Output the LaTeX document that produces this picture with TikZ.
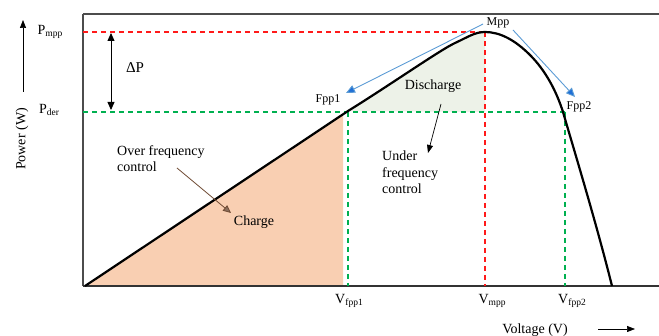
\documentclass[tikz,border=0pt]{standalone}
\usepackage{fontspec}
\setmainfont{Liberation Serif}
\usetikzlibrary{arrows.meta}
\definecolor{redd}{HTML}{FF1A1A}
\definecolor{grn}{HTML}{00B050}
\definecolor{peach}{HTML}{F9CFB2}
\definecolor{palegreen}{HTML}{EDF2E8}
\definecolor{lblue}{HTML}{5B9BD5}
\definecolor{dblue}{HTML}{1F6FD6}
\definecolor{brownish}{HTML}{6E4A33}
\tikzset{
  frameline/.style={draw=black!70, line width=1.3pt},
  curveline/.style={draw=black, line width=2.2pt},
  reddash/.style={draw=redd, line width=1.4pt, dash pattern=on 5pt off 4pt},
  grndash/.style={draw=grn, line width=1.4pt, dash pattern=on 5pt off 4pt},
  bluearrow/.style={draw=lblue, line width=0.9pt, -{Triangle[length=9pt,width=8pt,fill=dblue]}},
  blkarrow/.style={draw=black, line width=0.7pt, -{Triangle[length=8pt,width=6pt]}},
  lbl/.style={inner sep=0pt, font=\fontsize{14}{16.5}\selectfont},
  small/.style={inner sep=0pt, font=\fontsize{12}{14}\selectfont},
}
\newcommand{\sbs}[1]{{\fontsize{9.5}{10}\selectfont #1}}
\begin{document}
\begin{tikzpicture}[x=1pt,y=-1pt]
\useasboundingbox (0,0) rectangle (659,336);
% key points
\coordinate (O) at (85,286);
\coordinate (F1) at (348,111);
\coordinate (A) at (455,43);
\coordinate (M) at (485,32);
\coordinate (B) at (530,55);
\coordinate (F2) at (563,112);
\coordinate (E) at (612,286);
\coordinate (PL) at (83,32);
\coordinate (DL) at (83,112);
\coordinate (Mb) at (485,286);
\coordinate (M1) at (485,112);
\coordinate (F1t) at (348,112);
\coordinate (F1b) at (348,286);
\coordinate (F2t) at (565,112);
\coordinate (F2b) at (565,286);
\coordinate (Ct) at (343,114.4);
\coordinate (Cb) at (343,286);
% fills
\fill[peach] (O) -- (Ct) -- (Cb) -- cycle;
\fill[palegreen] (F1) .. controls (390,85) and (440,50) .. (A) .. controls (468,37) and (475,32) .. (M) -- (M1) -- cycle;
% frame
\draw[frameline] (83,14) -- (659,14);
\draw[frameline] (83,14) -- (83,286);
\draw[draw=black!80, line width=1.4pt] (83,286) -- (659,286);
% dashed guides
\draw[reddash] (PL) -- (M);
\draw[reddash] (M) -- (Mb);
\draw[grndash] (DL) -- (F2t);
\draw[grndash] (F1t) -- (F1b);
\draw[grndash] (F2t) -- (F2b);
% curve
\draw[curveline, line join=round] (O) -- (F1) .. controls (390,85) and (440,50) .. (A) .. controls (468,37) and (475,32) .. (M)
  .. controls (500,32) and (515,40) .. (B) .. controls (545,70) and (556,90) .. (F2) .. controls (574,150) and (596,222) .. (E);
% labels
\node[lbl] (pmpp) at (50,32) {P\raisebox{-1.5pt}{\sbs{mpp}}};
\node[lbl] (pder) at (49,110) {P\raisebox{-1.5pt}{\sbs{der}}};
\node[lbl, font=\fontsize{15}{16}\selectfont] (dp) at (135,68) {ΔP};
\coordinate (dpt) at (111,33);
\coordinate (dpb) at (111,110);
\draw[draw=black, line width=0.8pt, {Triangle[length=8pt,width=7pt]}-{Triangle[length=8pt,width=7pt]}] (dpt) -- (dpb);
\coordinate (pa1) at (23,92);
\coordinate (pa2) at (23,20);
\draw[blkarrow] (pa1) -- (pa2);
\node[lbl, rotate=90] (power) at (22,139) {Power (W)};
\node[lbl] (volt) at (535,330) {Voltage (V)};
\coordinate (va1) at (598,329);
\coordinate (va2) at (635,329);
\draw[blkarrow] (va1) -- (va2);
\node[lbl] (vf1) at (349,301) {V\raisebox{-1.5pt}{\sbs{fpp1}}};
\node[lbl] (vm) at (492,301) {V\raisebox{-1.5pt}{\sbs{mpp}}};
\node[lbl] (vf2) at (572,301) {V\raisebox{-1.5pt}{\sbs{fpp2}}};
\node[small] (mpp) at (498,23) {Mpp};
\node[small] (fpp1) at (328,100) {Fpp1};
\node[small] (fpp2) at (579,107) {Fpp2};
\coordinate (b1s) at (483,24);
\coordinate (b1e) at (346,93);
\coordinate (b2s) at (513,30);
\coordinate (b2e) at (575,97);
\draw[bluearrow] (b1s) -- (b1e);
\draw[bluearrow] (b2s) -- (b2e);
\node[lbl] (dis) at (433,86) {Discharge};
\coordinate (d1) at (441,104);
\coordinate (d2) at (428,153);
\draw[blkarrow] (d1) -- (d2);
\node[lbl, anchor=north west, align=left] (under) at (382,151) {Under\\frequency\\control};
\node[lbl, anchor=north west, align=left] (over) at (117,145) {Over frequency\\control};
\node[lbl] (charge) at (254,222) {Charge};
\coordinate (o1) at (177,168);
\coordinate (o2) at (231,213);
\draw[draw=brownish, line width=0.8pt, -{Triangle[length=8pt,width=7pt,fill=brownish!80]}] (o1) -- (o2);
\end{tikzpicture}
\end{document}
